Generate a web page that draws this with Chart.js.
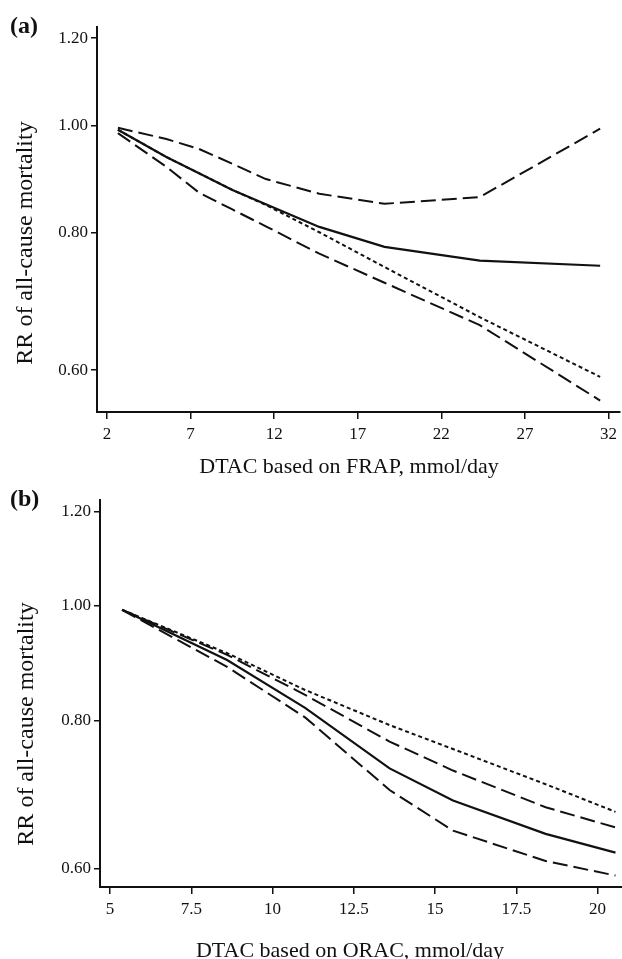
<!DOCTYPE html>
<html>
<head>
<meta charset="utf-8">
<script src="https://cdn.jsdelivr.net/npm/chart.js@4.4.1/dist/chart.umd.min.js"></script>
<style>
  html, body { margin: 0; padding: 0; background: #fff; }
  #wrap { position: relative; width: 622px; height: 959px; }
  canvas { position: absolute; left: 0; }
  #chartA { top: 0; }
  #chartB { top: 480px; }
</style>
</head>
<body>
<div id="wrap">
  <canvas id="chartA" width="622" height="480"></canvas>
  <canvas id="chartB" width="622" height="479"></canvas>
</div>
<script>
// (a) DTAC based on FRAP
const frapX      = [2.65, 5.55, 7.5, 9.5, 11.5, 14.7, 18.6, 24.3, 31.5];
const frapRR     = [0.991, 0.936, 0.905, 0.874, 0.848, 0.809, 0.776, 0.754, 0.746];
const frapUpper  = [0.995, 0.972, 0.952, 0.923, 0.894, 0.867, 0.849, 0.861, 0.993];
const frapLower  = [0.984, 0.917, 0.869, 0.839, 0.810, 0.765, 0.720, 0.659, 0.563];
const frapLinear = [0.991, 0.936, 0.905, 0.874, 0.847, 0.800, 0.744, 0.670, 0.5915];
const frapTicks  = [2, 7, 12, 17, 22, 27, 32];

// (b) DTAC based on ORAC
const oracX      = [5.37, 8.6, 11.0, 13.6, 15.55, 18.4, 20.55];
const oracRR     = [0.992, 0.900, 0.820, 0.729, 0.685, 0.642, 0.619];
const oracUpper  = [0.992, 0.909, 0.841, 0.768, 0.726, 0.676, 0.650];
const oracLower  = [0.992, 0.888, 0.805, 0.699, 0.646, 0.609, 0.592];
const oracLinear = [0.992, 0.912, 0.849, 0.793, 0.757, 0.707, 0.670];
const oracTicks  = [5, 7.5, 10, 12.5, 15, 17.5, 20];

const rrTicks = [0.6, 0.8, 1.0, 1.2];

const FONT = '"Liberation Serif", "Times New Roman", serif';
const INK = "#111";

function series(xs, ys, dash, width) {
  return {
    data: xs.map((x, i) => ({ x: x, y: ys[i] })),
    borderColor: INK,
    borderWidth: width,
    borderDash: dash,
    pointRadius: 0,
    tension: 0,
    fill: false,
  };
}

// panel letter and axis titles
function labels(p) {
  return {
    id: "labels",
    afterDraw(chart) {
      const ctx = chart.ctx;
      ctx.save();
      ctx.fillStyle = INK;
      ctx.textBaseline = "alphabetic";
      ctx.font = "bold 24px " + FONT;
      ctx.textAlign = "left";
      ctx.fillText(p.letter, p.letterX, p.letterY);
      ctx.font = "22px " + FONT;
      ctx.textAlign = "center";
      ctx.fillText(p.xTitle, p.xTitleX, p.xTitleY);
      ctx.translate(p.yTitleX, p.yTitleY);
      ctx.rotate(-Math.PI / 2);
      ctx.font = "24px " + FONT;
      ctx.fillText(p.yTitle, 0, 0);
      ctx.restore();
    },
  };
}

function makePanel(id, p) {
  return new Chart(document.getElementById(id), {
    type: "line",
    data: {
      datasets: [
        series(p.x, p.upper, [15, 6], 2),
        series(p.x, p.rr, [], 2.2),
        series(p.x, p.linear, [4, 3], 2),
        series(p.x, p.lower, [15, 6], 2),
      ],
    },
    options: {
      responsive: false,
      animation: false,
      layout: { padding: { top: p.top, left: 0, right: 0, bottom: 0 } },
      plugins: {
        legend: { display: false },
        tooltip: { enabled: false },
      },
      scales: {
        x: {
          type: "linear",
          min: p.xMin,
          max: p.xMax,
          afterBuildTicks: (s) => {
            s.ticks = p.xTicks.map((v) => ({ value: v }));
          },
          afterFit: (s) => {
            s.height = p.xAxisHeight;
          },
          ticks: {
            color: INK,
            padding: 5,
            maxRotation: 0,
            font: { family: FONT, size: 17 },
            callback: (v) => String(v),
          },
          grid: { drawOnChartArea: false, tickLength: 7, color: INK, lineWidth: 1.5 },
          border: { color: INK, width: 2 },
        },
        y: {
          type: "logarithmic",
          min: p.yMin,
          max: p.yMax,
          afterBuildTicks: (s) => {
            s.ticks = rrTicks.map((v) => ({ value: v }));
          },
          afterFit: (s) => {
            s.width = p.yAxisWidth;
          },
          ticks: {
            color: INK,
            padding: 3,
            font: { family: FONT, size: 17 },
            callback: (v) => Number(v).toFixed(2),
          },
          grid: { drawOnChartArea: false, tickLength: 6, color: INK, lineWidth: 1.5 },
          border: { color: INK, width: 2 },
        },
      },
    },
    plugins: [labels(p)],
  });
}

makePanel("chartA", {
  x: frapX, rr: frapRR, upper: frapUpper, lower: frapLower, linear: frapLinear,
  xTicks: frapTicks, xMin: 1.4, xMax: 32.65, yMin: 0.5497, yMax: 1.228,
  top: 27, xAxisHeight: 68, yAxisWidth: 97,
  letter: "(a)", letterX: 10, letterY: 33,
  xTitle: "DTAC based on FRAP, mmol/day", xTitleX: 349, xTitleY: 473,
  yTitle: "RR of all-cause mortality", yTitleX: 32, yTitleY: 243,
});

makePanel("chartB", {
  x: oracX, rr: oracRR, upper: oracUpper, lower: oracLower, linear: oracLinear,
  xTicks: oracTicks, xMin: 4.69, xMax: 20.75, yMin: 0.579, yMax: 1.228,
  top: 20, xAxisHeight: 72, yAxisWidth: 100,
  letter: "(b)", letterX: 10, letterY: 26,
  xTitle: "DTAC based on ORAC, mmol/day", xTitleX: 350, xTitleY: 477,
  yTitle: "RR of all-cause mortality", yTitleX: 33, yTitleY: 244,
});
</script>
</body>
</html>
